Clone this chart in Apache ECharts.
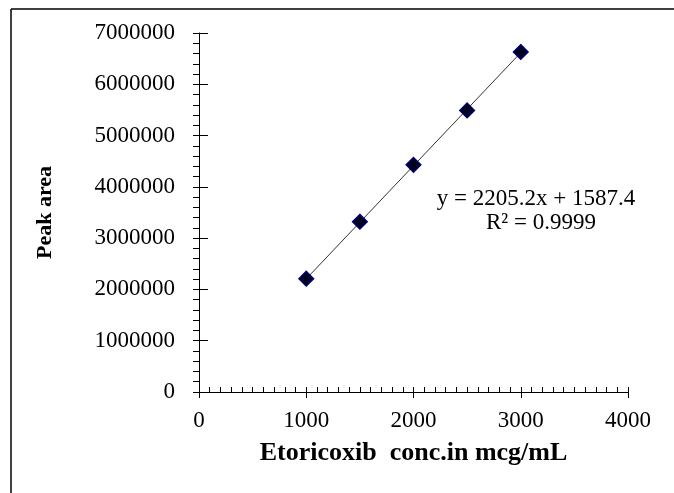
<!DOCTYPE html>
<html>
<head>
<meta charset="utf-8">
<script src="https://cdn.jsdelivr.net/npm/echarts@6/dist/echarts.min.js"></script>
<style>
  html, body { margin: 0; padding: 0; background: #fff; }
  #chart { width: 674px; height: 493px; }
</style>
</head>
<body>
<div id="chart"></div>
<script>
// calibration data
const conc = [1000, 1500, 2000, 2500, 3000]
const peakArea = [2210000, 3320000, 4430000, 5490000, 6630000]
// trendline as printed on the chart
const slope = 2205.2
const intercept = 1587.4
const trendX = [1000, 3000]
const equationLines = ['y = 2205.2x + 1587.4', 'R² = 0.9999']

const font = 'Liberation Serif'
const chart = echarts.init(document.getElementById('chart'))

const points = conc.map((x, i) => [x, peakArea[i]])
const trend = trendX.map(x => [x, slope * x + intercept])

const option = {
    animation: false,
    backgroundColor: '#fff',
    grid: { left: 199, right: 46, top: 33, bottom: 101 },
    xAxis: [
        {
            type: 'value', min: 0, max: 4000, interval: 1000,
            name: 'Etoricoxib  conc.in mcg/mL',
            nameLocation: 'middle', nameGap: 48,
            nameTextStyle: { fontFamily: font, fontWeight: 'bold', fontSize: 26, color: '#000' },
            axisLine: { lineStyle: { color: '#000', width: 1 } },
            axisTick: { show: true, length: 6, lineStyle: { color: '#000' } },
            axisLabel: { fontFamily: font, fontSize: 23, color: '#000', margin: 17, formatter: v => String(v) },
            splitLine: { show: false }
        },
        {
            type: 'value', min: 0, max: 4000, interval: 1000, position: 'bottom',
            axisLine: { show: false },
            axisTick: { show: true, inside: true, length: 5, lineStyle: { color: '#000' } },
            minorTick: { show: true, splitNumber: 10, length: 5, lineStyle: { color: '#000' } },
            axisLabel: { show: false },
            splitLine: { show: false }
        }
    ],
    yAxis: [
        {
            type: 'value', min: 0, max: 7000000, interval: 1000000,
            name: 'Peak area',
            nameLocation: 'middle', nameGap: 143,
            nameTextStyle: { fontFamily: font, fontWeight: 'bold', fontSize: 22, color: '#000' },
            axisLine: { show: true, lineStyle: { color: '#000', width: 1 } },
            axisTick: { show: true, length: 6, lineStyle: { color: '#000' } },
            minorTick: { show: true, splitNumber: 5, length: 6, lineStyle: { color: '#000' } },
            axisLabel: { fontFamily: font, fontSize: 23, color: '#000', margin: 24, formatter: v => String(v) },
            splitLine: { show: false }
        },
        {
            type: 'value', min: 0, max: 7000000, interval: 1000000, position: 'left',
            axisLine: { show: false },
            axisTick: { show: true, inside: true, length: 9, lineStyle: { color: '#000' } },
            axisLabel: { show: false },
            splitLine: { show: false }
        }
    ],
    graphic: [
        { type: 'line', shape: { x1: 11, y1: 9, x2: 11, y2: 493 }, style: { stroke: '#000', lineWidth: 1.5 } },
        { type: 'line', shape: { x1: 11, y1: 9, x2: 674, y2: 9 }, style: { stroke: '#000', lineWidth: 1.5 } },
        {
            type: 'text', x: 536, y: 199,
            style: { text: equationLines[0], font: '23px "Liberation Serif"', fill: '#000', textAlign: 'center', textVerticalAlign: 'middle' }
        },
        {
            type: 'text', x: 541, y: 223,
            style: { text: equationLines[1], font: '23px "Liberation Serif"', fill: '#000', textAlign: 'center', textVerticalAlign: 'middle' }
        }
    ],
    series: [
        {
            name: 'trend', type: 'line', data: trend,
            showSymbol: false, symbol: 'none',
            lineStyle: { color: '#333', width: 1 },
            z: 2
        },
        {
            name: 'Peak area', type: 'scatter', data: points,
            symbol: 'diamond', symbolSize: 15,
            itemStyle: { color: '#000020', borderColor: '#000080', borderWidth: 1.2, opacity: 1 },
            z: 3
        }
    ]
}

chart.setOption(option)
</script>
</body>
</html>
